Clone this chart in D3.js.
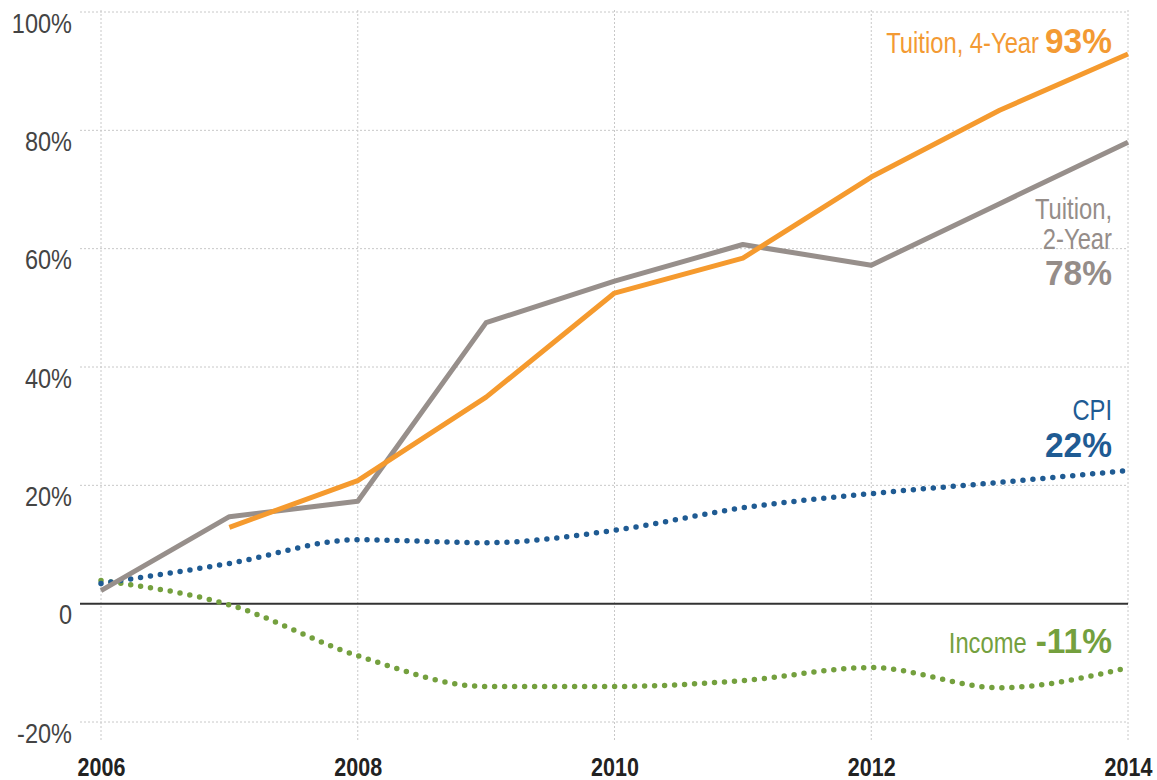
<!DOCTYPE html>
<html>
<head>
<meta charset="utf-8">
<script src="https://cdn.jsdelivr.net/npm/d3@7"></script>
<style>
  html, body { margin: 0; padding: 0; background: #fff; }
  svg { display: block; }
  text { font-family: "Liberation Sans", Arial, sans-serif; }
</style>
</head>
<body>
<div id="chart"></div>
<script>
//---------------------------DATA-------------------------------//
var years = [2006, 2007, 2008, 2009, 2010, 2011, 2012, 2013, 2014];
var tuition2 = [2.2, 14.7, 17.3, 47.5, 54.5, 60.7, 57.2, 67.6, 78];
var tuition4 = [null, 12.9, 20.8, 34.9, 52.5, 58.4, 72.1, 83.4, 92.9];
var cpi = [3.4, 6.8, 10.8, 10.3, 12.4, 16.2, 18.6, 20.5, 22.5];
var income = [3.9, -0.2, -8.8, -14.0, -14.0, -13.0, -10.8, -14.2, -10.8];

var yTicks = [-20, 0, 20, 40, 60, 80, 100];
var yTickLabels = ["-20%", "0", "20%", "40%", "60%", "80%", "100%"];
var xTicks = [2006, 2008, 2010, 2012, 2014];

//---------------------------SVG--------------------------------//
var W = 1157, H = 780;
var svg = d3.select("#chart").append("svg")
    .attr("width", W)
    .attr("height", H);

//--------------------------SCALES------------------------------//
var x = d3.scaleLinear().domain([2006, 2014]).range([101, 1128]);
var y = d3.scaleLinear().domain([-20, 100]).range([722, 12]);

//---------------------------GRID-------------------------------//
svg.append("g")
    .selectAll("line")
    .data(yTicks.filter(function(d) { return d !== 0; }))
    .enter().append("line")
    .attr("x1", 80).attr("x2", x(2014))
    .attr("y1", function(d) { return y(d); })
    .attr("y2", function(d) { return y(d); })
    .style("stroke", "#c8c8c8")
    .style("stroke-width", 1)
    .style("stroke-dasharray", "2,2");

svg.append("g")
    .selectAll("line")
    .data(xTicks)
    .enter().append("line")
    .attr("x1", function(d) { return x(d); })
    .attr("x2", function(d) { return x(d); })
    .attr("y1", 10).attr("y2", 742)
    .style("stroke", "#c8c8c8")
    .style("stroke-width", 1)
    .style("stroke-dasharray", "2,2");

// zero line
svg.append("line")
    .attr("x1", 80).attr("x2", x(2014))
    .attr("y1", y(0)).attr("y2", y(0))
    .style("stroke", "#333")
    .style("stroke-width", 2);

//---------------------------AXES-------------------------------//
var yAxis = d3.axisLeft(y)
    .tickValues(yTicks)
    .tickSize(0)
    .tickFormat(function(d, i) { return yTickLabels[i]; });

var gy = svg.append("g")
    .attr("transform", "translate(72,0)")
    .call(yAxis);
gy.select(".domain").remove();
gy.selectAll("text")
    .attr("x", 0)
    .attr("dy", "20px")
    .attr("transform", "scale(0.84,1)")
    .style("font-size", "28px")
    .style("fill", "#444")
    .style("font-family", null);

var xAxis = d3.axisBottom(x)
    .tickValues(xTicks)
    .tickSize(0)
    .tickFormat(d3.format("d"));

var gx = svg.append("g")
    .attr("transform", "translate(0,758)")
    .call(xAxis);
gx.select(".domain").remove();
gx.selectAll("text")
    .attr("y", 0)
    .attr("dy", "18px")
    .attr("transform", "scale(0.86,1)")
    .style("font-size", "25px")
    .style("font-weight", "bold")
    .style("fill", "#222")
    .style("font-family", null);

//---------------------------LINES------------------------------//
function series(vals) {
    return years.map(function(yr, i) { return { year: yr, v: vals[i] }; })
        .filter(function(d) { return d.v !== null; });
}

var smooth = d3.line()
    .curve(d3.curveMonotoneX)
    .x(function(d) { return x(d.year); })
    .y(function(d) { return y(d.v); });

var straight = d3.line()
    .x(function(d) { return x(d.year); })
    .y(function(d) { return y(d.v); });

svg.append("path")
    .attr("d", smooth(series(income)))
    .style("fill", "none")
    .style("stroke", "#74a03e")
    .style("stroke-width", 5.5)
    .style("stroke-linecap", "round")
    .style("stroke-dasharray", "0,10");

svg.append("path")
    .attr("d", smooth(series(cpi)))
    .style("fill", "none")
    .style("stroke", "#1f5b93")
    .style("stroke-width", 5.5)
    .style("stroke-linecap", "round")
    .style("stroke-dasharray", "0,10");

svg.append("path")
    .attr("d", straight(series(tuition2)))
    .style("fill", "none")
    .style("stroke", "#978f8b")
    .style("stroke-width", 5)
    .style("stroke-linejoin", "round");

svg.append("path")
    .attr("d", straight(series(tuition4)))
    .style("fill", "none")
    .style("stroke", "#f59a2e")
    .style("stroke-width", 5)
    .style("stroke-linejoin", "round");

//--------------------------LABELS------------------------------//
// parts are laid out right to left, each squeezed to look condensed
var lx = 1112;

function label(yPos, color, parts) {
    var cursor = lx;
    parts.slice().reverse().forEach(function(p) {
        var s = p.bold ? 0.93 : 0.82;
        cursor -= (p.gap || 0);
        var t = svg.append("g")
            .attr("transform", "translate(" + cursor + "," + yPos + ") scale(" + s + ",1)")
            .append("text")
            .attr("text-anchor", "end")
            .style("fill", color)
            .style("font-size", p.bold ? "36px" : "29px")
            .style("font-weight", p.bold ? "bold" : "normal")
            .text(p.t);
        cursor -= t.node().getComputedTextLength() * s;
    });
}

label(53, "#f39a33", [{ t: "Tuition, 4-Year", gap: 6 }, { t: "93%", bold: true }]);
label(219, "#958d89", [{ t: "Tuition," }]);
label(249, "#958d89", [{ t: "2-Year" }]);
label(285, "#958d89", [{ t: "78%", bold: true }]);
label(420, "#1f5b93", [{ t: "CPI" }]);
label(457, "#1f5b93", [{ t: "22%", bold: true }]);
label(653, "#74a03e", [{ t: "Income", gap: 9 }, { t: "-11%", bold: true }]);
</script>
</body>
</html>
